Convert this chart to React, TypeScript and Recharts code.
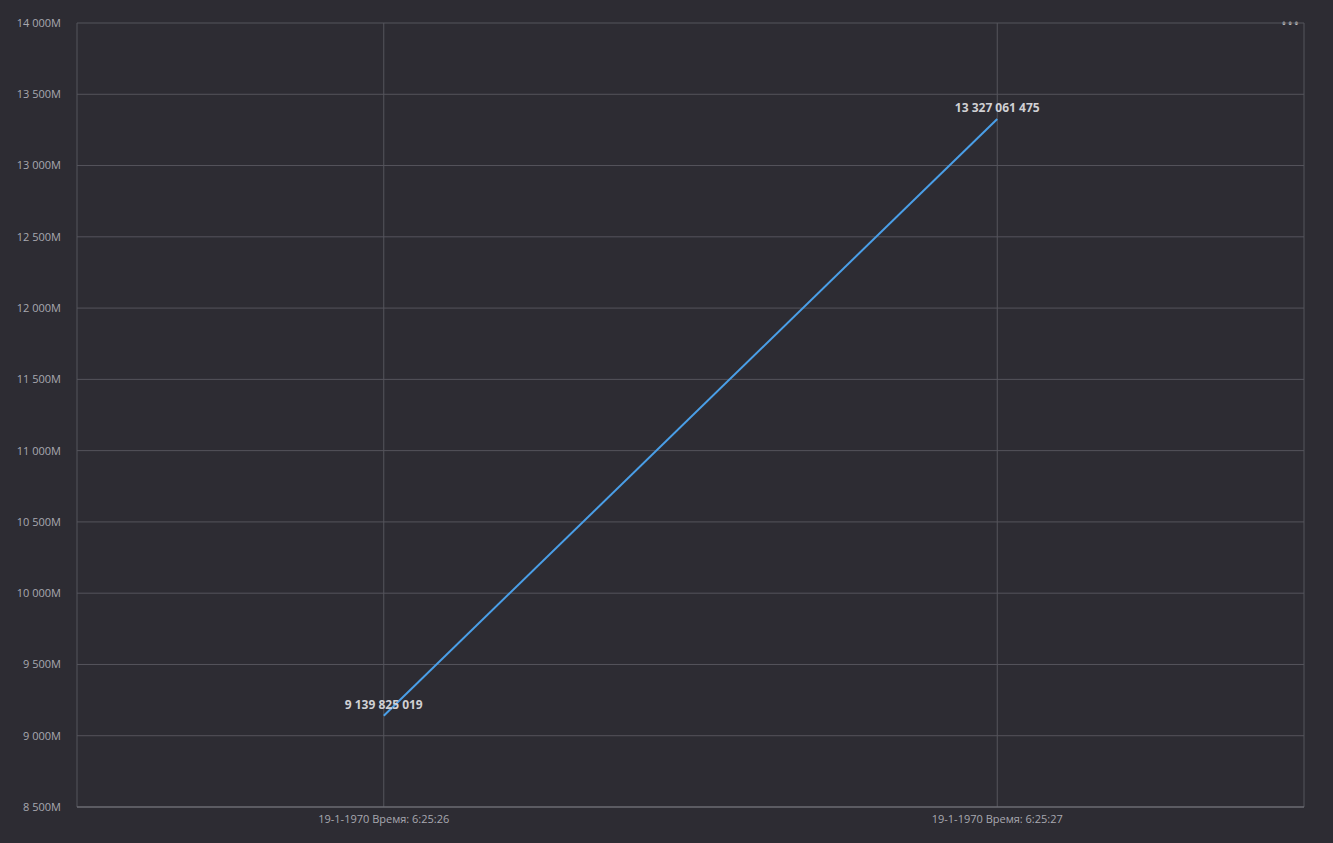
import React from "react";
import { LineChart, Line, XAxis, YAxis, CartesianGrid, LabelList } from "recharts";

const categories = ["19-1-1970 Время: 6:25:26", "19-1-1970 Время: 6:25:27"];
const values = [9139825019, 13327061475];
const yTicks = [8500, 9000, 9500, 10000, 10500, 11000, 11500, 12000, 12500, 13000, 13500, 14000].map(v => v * 1e6);

const data = categories.map((c, i) => ({ name: c, value: values[i] }));

const sp = (n: number) => Math.round(n).toString().replace(/\B(?=(\d{3})+(?!\d))/g, " ");
const fmtY = (v: number) => sp(v / 1e6) + "M";

export default function App() {
  return (
    <div style={{ position: "fixed", left: 0, top: 0, width: 1333, height: 843, background: "#2d2c33", fontFamily: "'Open Sans', 'Noto Sans', sans-serif" }}>
      <div style={{ position: "absolute", right: 33, top: 14, color: "#bbb", fontSize: 14, letterSpacing: 1 }}>•••</div>
      <LineChart width={1333} height={843} data={data} margin={{ top: 23, right: 29, bottom: 0, left: 0 }}>
        <CartesianGrid stroke="#55545c" strokeWidth={1} />
        <XAxis dataKey="name" scale="band" height={36} tick={{ fill: "#a8a8b0", fontSize: 11 }} tickLine={false} axisLine={{ stroke: "#77767e" }} />
        <YAxis width={77} domain={[8500e6, 14000e6]} ticks={yTicks} tickFormatter={fmtY} tick={{ fill: "#a8a8b0", fontSize: 11 }} tickLine={false} axisLine={false} interval={0} tickMargin={10} />
        <Line dataKey="value" stroke="#4a9fe8" strokeWidth={2} dot={false} isAnimationActive={false}>
          <LabelList dataKey="value" position="top" offset={7} formatter={(v: any) => sp(v)} style={{ fill: "#d0d0d4", fontSize: 12, fontWeight: 700 }} />
        </Line>
      </LineChart>
    </div>
  );
}
